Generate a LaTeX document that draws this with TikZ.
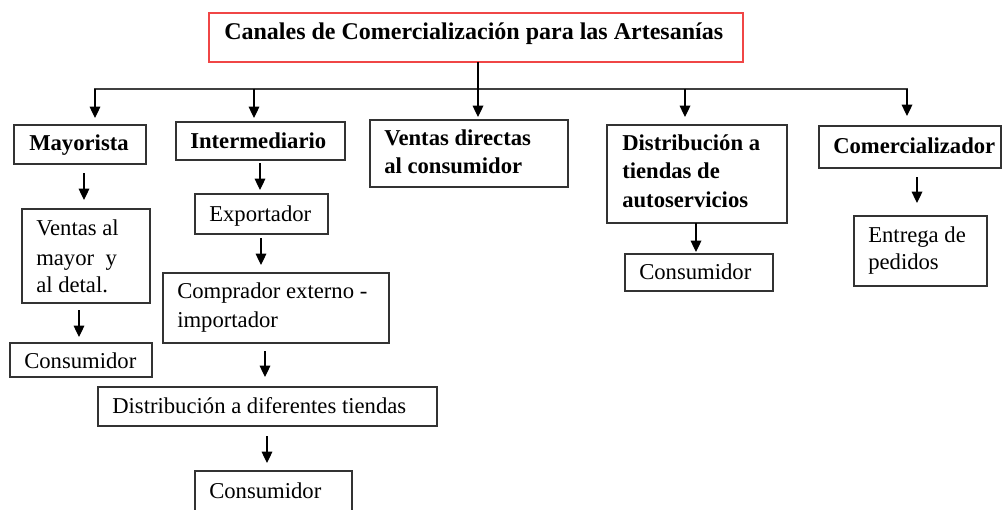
\documentclass[tikz,border=0pt]{standalone}
\usepackage{fontspec}
\setmainfont{Liberation Serif}
\usetikzlibrary{arrows.meta}
\definecolor{tred}{RGB}{240,70,70}
\newcommand\mybox[6][box]{\node[#1, minimum width={(#5-#3)*0.75pt}, minimum height={(#6-#4)*0.75pt}] (#2) at (#3,#4) {};}
\begin{document}
\begin{tikzpicture}[x=0.75pt,y=-0.75pt,
 box/.style={draw=black!80, line width=0.9pt, rectangle, inner sep=0pt, outer sep=0pt, anchor=north west},
 titlebox/.style={box, draw=tred},
 txt/.style={inner sep=0pt, anchor=base west, font=\fontsize{17}{21}\selectfont},
 btxt/.style={inner sep=0pt, anchor=base west, font=\fontsize{17}{21}\selectfont\bfseries},
 arr/.style={draw=black, line width=0.9pt, -{Triangle[width=8pt,length=8.5pt]}},
 link/.style={draw=black!75, line width=0.9pt}]
\clip (0,0) rectangle (1003,510);
% boxes
\mybox[titlebox]{title}{209}{13}{743}{62}
\mybox{may}{14}{125}{146}{164}
\mybox{inter}{176}{122}{345}{160}
\mybox{vdir}{370}{120}{568}{187}
\mybox{dist}{607}{125}{787}{223}
\mybox{come}{819}{126}{1001}{168}
\mybox{vent}{22}{209}{150}{303}
\mybox{consA}{10}{343}{152}{377}
\mybox{expo}{195}{194}{328}{234}
\mybox{comp}{163}{273}{389}{343}
\mybox{difer}{98}{387}{437}{426}
\mybox{consB}{195}{471}{352}{530}
\mybox{consC}{625}{254}{773}{291}
\mybox{entr}{854}{216}{987}{286}
% texts
\node[btxt, font=\fontsize{18}{22}\selectfont\bfseries] (tTitle) at (224,40) {Canales de Comercialización para las Artesanías};
\node[btxt] (tMay) at (29,150) {Mayorista};
\node[btxt] (tInter) at (190,148) {Intermediario};
\node[btxt] (tVdir1) at (384,145) {Ventas directas};
\node[btxt] (tVdir2) at (384,173) {al consumidor};
\node[btxt] (tDist1) at (622,150) {Distribución a};
\node[btxt] (tDist2) at (622,178) {tiendas de};
\node[btxt] (tDist3) at (622,207) {autoservicios};
\node[btxt] (tCome) at (833,153) {Comercializador};
\node[txt] (tVent1) at (36,235) {Ventas al};
\node[txt] (tVent2) at (36,265) {mayor~ y};
\node[txt] (tVent3) at (36,292) {al detal.};
\node[txt] (tConsA) at (24,368) {Consumidor};
\node[txt] (tExpo) at (209,221) {Exportador};
\node[txt] (tComp1) at (177,298) {Comprador externo -};
\node[txt] (tComp2) at (177,327) {importador};
\node[txt] (tDifer) at (112,413) {Distribución a diferentes tiendas};
\node[txt] (tConsB) at (209,498) {Consumidor};
\node[txt] (tConsC) at (639,279) {Consumidor};
\node[txt] (tEntr1) at (868,242) {Entrega de};
\node[txt] (tEntr2) at (868,269) {pedidos};
% connector coordinates
\coordinate (hL) at (95,89);
\coordinate (hR) at (907,89);
\coordinate (h2) at (254,89);
\coordinate (h4) at (685,89);
\coordinate (eMay) at (95,118);
\coordinate (eInter) at (254,118);
\coordinate (sTitle) at (478,62);
\coordinate (eVdir) at (478,117);
\coordinate (eDist) at (685,117);
\coordinate (eCome) at (907,116);
\coordinate (s1) at (84,173);   \coordinate (e1) at (84,200);
\coordinate (s2) at (79,310);   \coordinate (e2) at (79,337);
\coordinate (s3) at (260,163);  \coordinate (e3) at (260,190);
\coordinate (s4) at (261,238);  \coordinate (e4) at (261,265);
\coordinate (s5) at (265,351);  \coordinate (e5) at (265,377);
\coordinate (s6) at (267,436);  \coordinate (e6) at (267,463);
\coordinate (s7) at (696,223);  \coordinate (e7) at (696,252);
\coordinate (s8) at (917,177);  \coordinate (e8) at (917,203);
% connectors
\draw[link] ([xshift=-0.5pt]hL) -- ([xshift=0.5pt]hR);
\draw[arr] (hL) -- (eMay);
\draw[arr] (h2) -- (eInter);
\draw[arr] (sTitle) -- (eVdir);
\draw[arr] (h4) -- (eDist);
\draw[arr] (hR) -- (eCome);
\draw[arr] (s1) -- (e1);
\draw[arr] (s2) -- (e2);
\draw[arr] (s3) -- (e3);
\draw[arr] (s4) -- (e4);
\draw[arr] (s5) -- (e5);
\draw[arr] (s6) -- (e6);
\draw[arr] (s7) -- (e7);
\draw[arr] (s8) -- (e8);
\end{tikzpicture}
\end{document}
